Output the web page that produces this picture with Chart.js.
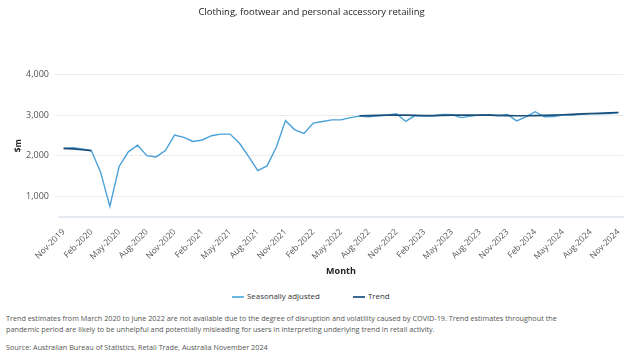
<!DOCTYPE html>
<html>
<head>
<meta charset="utf-8">
<script src="https://cdn.jsdelivr.net/npm/chart.js@4"></script>
<style>
  body { margin: 0; background: #fff; font-family: "Open Sans", sans-serif; }
  #wrap { position: relative; width: 630px; height: 363px; }
  #legend { position: absolute; top: 290px; left: 0; width: 630px; font-size: 7.9px; color: #333; }
  .item { position: absolute; top: 0; height: 12px; line-height: 12px; white-space: nowrap; }
  .swatch { display: inline-block; width: 12px; height: 2px; vertical-align: middle; margin-right: 3px; }
  .note { position: absolute; left: 6px; font-size: 7.25px; color: #555; line-height: 11px; white-space: nowrap; }
</style>
</head>
<body>
<div id="wrap">
  <canvas id="chart" width="630" height="285"></canvas>
  <div id="legend"></div>
  <div class="note" style="top:313px">Trend estimates from March 2020 to June 2022 are not available due to the degree of disruption and volatility caused by COVID-19. Trend estimates throughout the<br>pandemic period are likely to be unhelpful and potentially misleading for users in interpreting underlying trend in retail activity.</div>
  <div class="note" style="top:342px">Source: Australian Bureau of Statistics, Retail Trade, Australia November 2024</div>
</div>
<script>
const monthNames = ['Jan','Feb','Mar','Apr','May','Jun','Jul','Aug','Sep','Oct','Nov','Dec']
const labels = []
for (let i = 0; i < 61; i++) {
  const m = (10 + i) % 12
  const y = 2019 + Math.floor((10 + i) / 12)
  labels.push(monthNames[m] + '-' + y)
}

const yTicks = [1000, 2000, 3000, 4000]

const seasonallyAdjusted = [
  2180, 2200, 2170, 2130, 1600, 760, 1740, 2100, 2260, 2005, 1975, 2130,
  2510, 2455, 2355, 2390, 2495, 2535, 2535, 2315, 1990, 1640, 1755, 2210,
  2865, 2640, 2550, 2805, 2845, 2885, 2885, 2940, 2975, 2960, 2985, 3000,
  3035, 2845, 2990, 2975, 2985, 3015, 3010, 2940, 2975, 3000, 3010, 2985,
  3015, 2860, 2960, 3085, 2960, 2965, 3000, 3005, 3020, 3030, 3040, 3040,
  3065
]

const trend = [
  2185, 2170, 2150, 2130, null, null, null, null, null, null, null, null,
  null, null, null, null, null, null, null, null, null, null, null, null,
  null, null, null, null, null, null, null, null, 2985, 2990, 2995, 3000,
  3000, 3000, 2995, 2990, 2990, 2995, 3000, 3000, 3000, 3000, 3000, 2995,
  2990, 2985, 2985, 2990, 2995, 3000, 3010, 3020, 3030, 3040, 3045, 3055,
  3065
]

const saColor = '#4aa1d8'
const trendColor = '#1d4e77'
const font = '"Open Sans", sans-serif'

// html legend
const legendItems = [
  { text: 'Seasonally adjusted', color: '#6cb6e4', left: 232 },
  { text: 'Trend', color: '#3a6890', left: 353 }
]
const legendEl = document.getElementById('legend')
legendItems.forEach(it => {
  const d = document.createElement('div')
  d.className = 'item'
  d.style.left = it.left + 'px'
  d.innerHTML = '<span class="swatch" style="background:' + it.color + '"></span>' + it.text
  legendEl.appendChild(d)
})

new Chart(document.getElementById('chart'), {
  type: 'line',
  data: {
    labels: labels,
    datasets: [
      {
        label: 'Trend',
        data: trend,
        borderColor: trendColor,
        borderWidth: 1.7,
        pointRadius: 0,
        spanGaps: false,
        tension: 0
      },
      {
        label: 'Seasonally adjusted',
        data: seasonallyAdjusted,
        borderColor: saColor,
        borderWidth: 1.4,
        pointRadius: 0,
        tension: 0
      }
    ]
  },
  options: {
    responsive: false,
    animation: false,
    devicePixelRatio: 1,
    layout: { padding: { left: 0, right: 7, top: 0, bottom: 0 } },
    plugins: {
      legend: { display: false },
      tooltip: { enabled: false },
      title: {
        display: true,
        text: 'Clothing, footwear and personal accessory retailing',
        color: '#222',
        font: { family: font, size: 9.5, weight: 'normal' },
        padding: { top: 7, bottom: 56 }
      }
    },
    scales: {
      x: {
        offset: true,
        grid: { display: false },
        border: { display: true, color: '#e4eaf0', width: 2 },
        ticks: {
          autoSkip: false,
          maxRotation: 45,
          minRotation: 45,
          color: '#555',
          padding: 2,
          font: { family: font, size: 8.5 },
          callback: function (val, i) { return i % 3 === 0 ? labels[i] : '' }
        },
        title: {
          display: true,
          text: 'Month',
          color: '#222',
          font: { family: font, size: 9, weight: 'bold' },
          padding: { top: 0, bottom: 8 }
        },
        afterFit: function (axis) { axis.height = 68 }
      },
      y: {
        min: 500,
        max: 4000,
        afterBuildTicks: function (axis) {
          axis.ticks = yTicks.map(v => ({ value: v }))
        },
        grid: { color: '#ebebeb', tickLength: 4 },
        border: { display: false },
        ticks: {
          color: '#555',
          padding: 6,
          font: { family: font, size: 9 },
          callback: function (v) { return v.toLocaleString('en-US') }
        },
        title: {
          display: true,
          text: '$m',
          color: '#222',
          font: { family: font, size: 8.5, weight: 'bold' },
          padding: { top: 13, bottom: 0 }
        },
        afterFit: function (axis) { axis.width = 59 }
      }
    }
  }
})
</script>
</body>
</html>
